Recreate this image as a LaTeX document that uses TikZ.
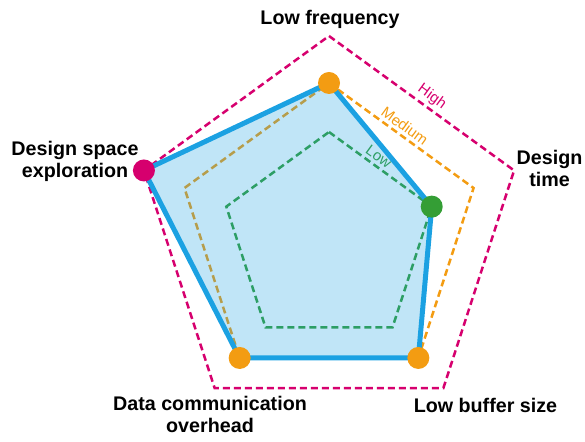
\documentclass[tikz,border=0pt]{standalone}
\usepackage{fontspec}
\setmainfont{Liberation Sans}
\usetikzlibrary{positioning, calc}
\definecolor{radarPink}{HTML}{D6006E}
\definecolor{radarOrange}{HTML}{F39C12}
\definecolor{radarGreen}{HTML}{349E35}
\definecolor{radarBlue}{HTML}{1BA1E2}

\begin{document}
\begin{tikzpicture}[x=1pt, y=1pt,
    levelLine/.style={line width=2.5pt, dash pattern=on 7pt off 4pt},
    levelLabel/.style={font=\fontsize{15}{17}\selectfont, sloped, above, inner sep=3pt},
    axisLabel/.style={font=\fontsize{19.7}{22}\selectfont\bfseries, align=center, anchor=base},
    dataDot/.style={circle, inner sep=0pt, minimum size=22pt},
]
\useasboundingbox (0,0) rectangle (585,441);
% corners of the three level pentagons
\foreach \lvl/\cy/\r in {hi/210.4/194.6, md/206/152, lo/201/108} {
    \foreach \i/\a in {1/90, 2/18, 3/-54, 4/-126, 5/162}
        \coordinate (\lvl\i) at ($(329,\cy)+(\a:\r)$);
}
\draw[levelLine, radarPink] (hi1) -- (hi2) node[levelLabel, pos=0.52] {High} -- (hi3) -- (hi4) -- (hi5) -- cycle;
\draw[levelLine, radarOrange] (md1) -- (md2) node[levelLabel, pos=0.485] {Medium} -- (md3) -- (md4) -- (md5) -- cycle;
\draw[levelLine, radarGreen] (lo1) -- (lo2) node[levelLabel, pos=0.43] {Low} -- (lo3) -- (lo4) -- (lo5) -- cycle;
% measured profile
\draw[radarBlue, line width=5pt, line join=round, fill=radarBlue, fill opacity=0.28]
    (md1) -- (lo2) -- (md3) -- (md4) -- (hi5) -- cycle;
\node[dataDot, fill=radarOrange] (dotFreq) at (md1) {};
\node[dataDot, fill=radarGreen] (dotTime) at (lo2) {};
\node[dataDot, fill=radarOrange] (dotBuffer) at (md3) {};
\node[dataDot, fill=radarOrange] (dotComm) at (md4) {};
\node[dataDot, fill=radarPink] (dotSpace) at (hi5) {};
% axis names
\node[axisLabel] (labFreq) at (330,416) {Low frequency};
\node[axisLabel] (labTime) at (549.5,254) {Design\\time};
\node[axisLabel] (labBuffer) at (485.5,29) {Low buffer size};
\node[axisLabel] (labComm) at (210,9) {Data communication\\overhead};
\node[axisLabel] (labSpace) at (75,263) {Design space\\exploration};
\end{tikzpicture}
\end{document}
